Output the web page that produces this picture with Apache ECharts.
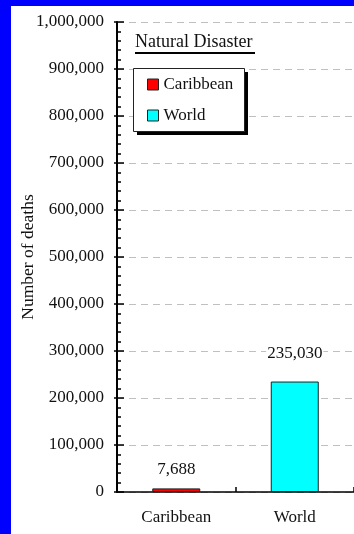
<!DOCTYPE html>
<html>
<head>
<meta charset="utf-8">
<script src="https://cdn.jsdelivr.net/npm/echarts@6/dist/echarts.min.js"></script>
<style>
  html, body { margin: 0; padding: 0; background: #fff; }
  #chart { width: 354px; height: 534px; }
</style>
</head>
<body>
<div id="chart"></div>
<script>
// Deaths from natural disasters, Caribbean vs. World
const categories = ['Caribbean', 'World'];
const deaths = [7688, 235030];
const seriesColors = ['#ff0000', '#00ffff'];
const yMin = 0;
const yMax = 1000000;
const yStep = 100000;
const chartTitle = 'Natural Disaster';
const yAxisName = 'Number of deaths';

const serif = '"Liberation Serif", "Times New Roman", serif';
const fmt = v => Number(v).toLocaleString('en-US');

// One series per category so each one gets its own legend entry
const labelDistances = [10, 20];
const series = categories.map((name, i) => ({
  name: name,
  type: 'bar',
  barWidth: 48,
  barGap: '-100%',
  data: categories.map((c, j) => (j === i ? deaths[i] : '-')),
  itemStyle: { color: seriesColors[i], borderColor: '#222', borderWidth: 1 },
  label: {
    show: true,
    position: 'top',
    distance: labelDistances[i],
    formatter: p => fmt(p.value),
    fontFamily: serif,
    fontSize: 17,
    color: '#111',
    backgroundColor: '#fff',
    padding: [0, 1]
  }
}));

const chart = echarts.init(document.getElementById('chart'), null, { renderer: 'canvas' });
chart.setOption({
  animation: false,
  backgroundColor: '#fff',
  grid: { left: 117, top: 22, bottom: 42, width: 246, containLabel: false },
  title: {
    text: chartTitle,
    left: 135,
    top: 33,
    padding: 0,
    textStyle: { fontFamily: serif, fontSize: 18, fontWeight: 'normal', color: '#111' }
  },
  legend: {
    orient: 'vertical',
    left: 147,
    top: 76,
    padding: 0,
    itemGap: 14,
    itemWidth: 11,
    itemHeight: 11,
    icon: 'rect',
    itemStyle: { borderColor: '#222', borderWidth: 1 },
    textStyle: { fontFamily: serif, fontSize: 17, color: '#111' },
    data: categories
  },
  xAxis: {
    type: 'category',
    data: categories,
    axisLine: { lineStyle: { color: '#000', width: 1.5 } },
    axisTick: { show: true, inside: true, length: 5, lineStyle: { color: '#000', width: 1.5 } },
    axisLabel: { margin: 17, fontFamily: serif, fontSize: 17, color: '#111' },
    splitLine: { show: false }
  },
  yAxis: [
    {
      type: 'value',
      min: yMin,
      max: yMax,
      interval: yStep,
      name: yAxisName,
      nameLocation: 'middle',
      nameGap: 80,
      nameMoveOverlap: false,
      nameTextStyle: { fontFamily: serif, fontSize: 17.5, color: '#111' },
      axisLine: { show: true, lineStyle: { color: '#000', width: 2 } },
      axisTick: { show: true, inside: true, length: 7, lineStyle: { color: '#000', width: 1.5 } },
      minorTick: { show: true, splitNumber: 5, length: 4, lineStyle: { color: '#000', width: 1.5 } },
      axisLabel: { margin: 13, fontFamily: serif, fontSize: 17, color: '#111', formatter: v => fmt(v) },
      splitLine: { show: true, lineStyle: { color: '#c0c0c0', width: 1, type: [7, 5] } }
    },
    {
      // outward half of the major ticks
      type: 'value',
      position: 'left',
      min: yMin,
      max: yMax,
      interval: yStep,
      axisLine: { show: false },
      axisTick: { show: true, inside: false, length: 3, lineStyle: { color: '#000', width: 1.5 } },
      axisLabel: { show: false },
      splitLine: { show: false }
    }
  ],
  series: series,
  graphic: [
    // frame strips along the left and top edges
    { type: 'rect', left: 0, top: 0, shape: { width: 11, height: 534 }, style: { fill: '#0000ff' }, z: 100 },
    { type: 'rect', left: 0, top: 0, shape: { width: 354, height: 6 }, style: { fill: '#0000ff' }, z: 100 },
    // underline of the title
    { type: 'line', shape: { x1: 135, y1: 53, x2: 255, y2: 53 }, style: { stroke: '#000', lineWidth: 2 }, z: 10 },
    // legend box with its drop shadow
    { type: 'rect', shape: { x: 137, y: 72, width: 111, height: 63 }, style: { fill: '#000' }, z: 1 },
    { type: 'rect', shape: { x: 133.5, y: 68.5, width: 111, height: 63 }, style: { fill: '#fff', stroke: '#222', lineWidth: 1 }, z: 2 }
  ]
});
</script>
</body>
</html>
